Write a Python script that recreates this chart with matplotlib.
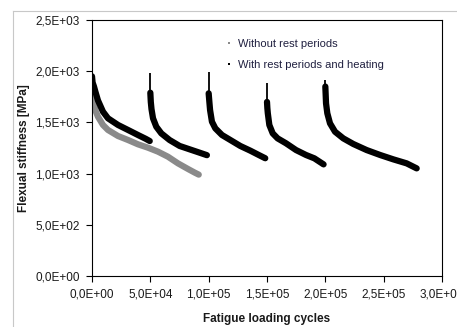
import matplotlib
matplotlib.use("Agg")
import matplotlib.pyplot as plt
from matplotlib.lines import Line2D
from matplotlib.ticker import FuncFormatter, MultipleLocator

plt.rcParams['font.family'] = ['Liberation Sans', 'DejaVu Sans']

# fatigue test without rest periods (grey points)
gray_x = [0, 800, 2000, 3500, 5100, 9400, 13700, 22300, 30900, 39400, 48000,
          56600, 65100, 73700, 82300, 88000, 91500]
gray_y = [1870, 1740, 1660, 1600, 1556, 1475, 1426, 1367, 1328, 1286, 1253,
          1214, 1165, 1100, 1045, 1010, 990]

# fatigue test with rest periods and heating (black points), one block per loading phase
spike_x = [0, 50000, 100000, 150000, 200000]
spike_top = [2130, 1980, 1995, 1882, 1914]
spike_bottom = [1950, 1790, 1784, 1700, 1850]

seg1_x = [0, 500, 1700, 2900, 5100, 9400, 13700, 22300, 30900, 39400, 46000, 49500]
seg1_y = [1950, 1890, 1850, 1800, 1715, 1605, 1540, 1475, 1426, 1377, 1340, 1318]
seg2_x = [50000, 50400, 51000, 52300, 55100, 59400, 66500, 75100, 83700, 92300, 98500]
seg2_y = [1790, 1700, 1630, 1540, 1458, 1393, 1328, 1270, 1237, 1204, 1180]
seg3_x = [100000, 100600, 101200, 102800, 105700, 111400, 118600, 127100, 135700,
          142900, 148500]
seg3_y = [1784, 1700, 1621, 1507, 1442, 1377, 1328, 1270, 1224, 1182, 1150]
seg4_x = [150000, 150300, 150700, 152000, 154900, 159100, 166300, 174900, 183400,
          190600, 198500]
seg4_y = [1700, 1640, 1589, 1475, 1393, 1344, 1296, 1230, 1182, 1149, 1090]
seg5_x = [200000, 200600, 201700, 204000, 208300, 215400, 224000, 235400, 246900,
          258300, 269700, 278300]
seg5_y = [1850, 1686, 1589, 1491, 1409, 1344, 1289, 1230, 1182, 1139, 1100, 1051]

segments = [(seg1_x, seg1_y), (seg2_x, seg2_y), (seg3_x, seg3_y),
            (seg4_x, seg4_y), (seg5_x, seg5_y)]

labels = ['Without rest periods', 'With rest periods and heating']
gray_col = '#8a8a8a'
black_col = '#000000'
text_col = '#1a1a1a'

fig = plt.figure(figsize=(4.57, 3.27), dpi=100)
ax = fig.add_axes([92 / 457, 51 / 327, 350 / 457, 256 / 327])

ax.plot(gray_x, gray_y, color=gray_col, lw=4.5, solid_capstyle='round',
        solid_joinstyle='round')
for sx, sy in segments:
    ax.plot(sx, sy, color=black_col, lw=4.5, solid_capstyle='round',
            solid_joinstyle='round')
ax.vlines(spike_x, spike_bottom, spike_top, color=black_col, lw=1.3)

ax.set_xlim(0, 300000)
ax.set_ylim(0, 2500)
ax.xaxis.set_major_locator(MultipleLocator(50000))
ax.yaxis.set_major_locator(MultipleLocator(500))
sci = FuncFormatter(lambda v, p: f"{v:.1E}".replace('.', ','))
ax.xaxis.set_major_formatter(sci)
ax.yaxis.set_major_formatter(sci)
ax.tick_params(direction='out', length=4, width=0.8, labelsize=8.5,
               labelcolor=text_col, color='#000000')
ax.tick_params(axis='x', pad=5)
ax.tick_params(axis='y', pad=5)
for s in ax.spines.values():
    s.set_linewidth(0.8)
    s.set_color('#000000')

ax.set_xlabel('Fatigue loading cycles', fontsize=8.5, fontweight='bold', color=text_col)
ax.set_ylabel('Flexual stiffness [MPa]', fontsize=8.5, fontweight='bold', color=text_col)
ax.xaxis.set_label_coords(0.5, -0.145)
ax.yaxis.set_label_coords(-0.177, 0.5)

handles = [Line2D([], [], ls='none', marker='s', ms=1.8, color=gray_col, mew=0),
           Line2D([], [], ls='none', marker='s', ms=1.8, color=black_col, mew=0)]
ax.legend(handles, labels, loc='upper left', bbox_to_anchor=(0.37, 0.943),
          frameon=False, fontsize=8, labelcolor='#202040', handlelength=0.6,
          handletextpad=0.5, labelspacing=0.95, borderaxespad=0)

# light frame of the chart area
fig.add_artist(Line2D([13 / 457, 1], [1 - 11 / 327, 1 - 11 / 327],
                      color='#c8c8c8', lw=0.8, transform=fig.transFigure))
fig.add_artist(Line2D([13 / 457, 13 / 457], [0, 1 - 11 / 327],
                      color='#c8c8c8', lw=0.8, transform=fig.transFigure))

fig.savefig('out.png', dpi=100)
plt.close(fig)
